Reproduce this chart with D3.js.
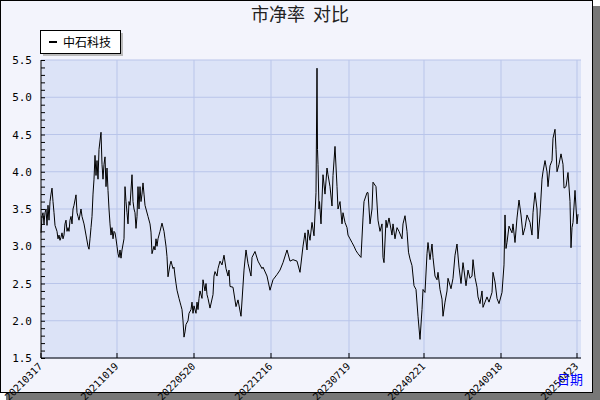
<!DOCTYPE html>
<html><head><meta charset="utf-8">
<script src="https://cdn.jsdelivr.net/npm/d3@7"></script>
<style>body{margin:0;background:#fff}</style></head>
<body><svg id="c" width="600" height="400"></svg>
<script>
const seriesName = "中石科技";
const tickLabels = ["20210317","20211019","20220520","20221216","20230719","20240221","20240918","20250423"];
const tickPos = [0,76,153,230,308,383,460,536];
const yTicks = [1.5,2.0,2.5,3.0,3.5,4.0,4.5,5.0,5.5];
const pos = [0,1,2,3,4,5,6,7,8,9,10,11,12,13,14,16,17,18,19,20,21,22,23,24,25,26,27,28,29,30,31,32,33,35,36,37,38,40,41,43,45,47,48,49,50,51,52,53,54,55,56,57,58,60,61,62,63,64,65,66,67,68,69,70,71,72,73,74,75,76,77,78,79,80,81,83,84,85,86,87,88,89,91,92,93,94,95,96,97,98,99,100,101,102,103,104,105,107,109,110,111,113,114,115,116,117,119,121,123,124,125,126,127,129,130,132,133,134,135,136,138,139,140,141,142,143,144,145,147,148,150,151,152,153,155,156,157,158,159,161,162,164,165,166,167,169,172,173,174,176,177,179,181,183,185,187,188,189,192,195,197,200,203,205,207,210,211,214,217,221,222,226,229,232,236,239,242,246,249,252,256,259,262,264,266,267,269,271,273,275,276,276.5,277,278,278.5,280,282,284,286,287,289,291,292,294,296,297,299,301,302,304,306,307,309,311,313,315,317,320,322,323,326,327,329,331,332,335,337,339,341,342,343,345,346,348,351,352,354,356,358,361,362,364,366,367.5,369,371,373,375,377,379,381,382,384,386,387,389,391,392,394,396,397,399,401,402,404,406,407,410,412,414,416,418,420,422,423,425,427,429,431,432,434,436,437,439,441,442,444,446,448,451,452,454,456,458,461,463,464,465,466,468,471,472,474,476,478,480,482,484,486,489,491,492,494,496,497,499,501,502,504,506,507,509,511,512,514,515,516,518,520,522,523,525,527,529,530,531,532,534,536,537,539];
const pb = [3.18,3.4,3.45,3.3,3.45,3.5,3.28,3.55,3.35,3.6,3.7,3.78,3.6,3.45,3.28,3.2,3.1,3.15,3.08,3.12,3.18,3.1,3.15,3.3,3.35,3.2,3.25,3.2,3.35,3.4,3.3,3.5,3.55,3.69,3.45,3.4,3.35,3.5,3.4,3.3,3.15,3.0,2.96,3.1,3.25,3.4,3.7,3.9,4.22,3.95,4.15,3.9,4.3,4.53,4.1,3.9,4.1,4.2,3.8,4.05,3.75,3.5,3.3,3.15,3.25,3.1,3.2,3.18,3.1,3.0,2.9,2.85,2.95,2.84,2.95,3.1,3.8,3.6,3.45,3.3,3.6,3.55,3.96,3.6,3.5,3.45,3.24,3.4,3.8,3.5,3.8,3.6,3.7,3.85,3.7,3.55,3.5,3.4,3.3,3.19,2.9,3.0,2.95,3.1,3.0,3.1,3.2,3.31,3.2,3.1,3.0,2.86,2.59,2.75,2.8,2.7,2.72,2.6,2.5,2.41,2.3,2.25,2.2,2.15,2.0,1.78,1.85,1.95,2.0,2.1,2.15,2.25,2.1,2.2,2.1,2.25,2.15,2.3,2.4,2.3,2.55,2.4,2.5,2.35,2.3,2.17,2.35,2.6,2.66,2.6,2.7,2.8,2.75,2.88,2.7,2.6,2.68,2.46,2.45,2.19,2.28,2.06,2.68,2.95,2.77,2.6,2.85,2.93,2.8,2.7,2.72,2.6,2.41,2.55,2.62,2.68,2.78,2.95,2.8,2.82,2.8,2.65,3.0,3.18,2.95,3.22,3.08,3.32,3.14,3.72,5.39,4.3,4.1,3.5,3.6,3.3,3.96,3.7,4.05,3.96,3.8,3.54,3.95,4.34,3.8,3.5,3.6,3.3,3.45,3.32,3.25,3.15,3.1,3.05,3.0,2.94,2.9,2.85,3.38,3.6,3.72,3.72,3.3,3.5,3.86,3.8,3.35,3.2,3.3,2.85,2.78,3.35,3.25,3.38,3.15,3.3,3.1,3.25,3.2,3.1,3.3,3.41,3.2,2.92,2.83,2.74,2.47,2.42,2.06,1.75,2.15,2.42,2.38,2.9,3.05,2.82,3.03,2.85,2.6,2.55,2.65,2.42,2.29,2.06,2.25,2.4,2.57,2.43,2.57,2.88,3.03,2.72,2.5,2.78,2.68,2.47,2.68,2.57,2.6,2.82,2.58,2.45,2.32,2.23,2.4,2.18,2.25,2.32,2.25,2.38,2.65,2.52,2.3,2.23,2.38,2.75,3.42,2.97,3.05,3.27,3.18,3.3,3.05,3.38,3.62,3.42,3.15,3.25,3.42,3.32,3.15,3.45,3.72,3.5,3.1,3.42,3.9,4.0,4.15,4.0,3.8,4.08,4.15,4.45,4.57,4.3,4.0,4.1,4.24,4.1,3.78,3.8,3.99,3.6,2.98,3.25,3.32,3.75,3.3,3.43];

const svg = d3.select("#c");
svg.append("rect").attr("x",6).attr("y",6).attr("width",594).attr("height",394).attr("fill","#777");
svg.append("rect").attr("x",0.5).attr("y",0.5).attr("width",592).attr("height",392).attr("fill","#f3f4fc").attr("stroke","#000");
const L=41,R=581,T=60,B=358;
const x = d3.scaleLinear().domain([0,540]).range([L,R]);
const y = d3.scaleLinear().domain([1.5,5.5]).range([B,T]);
svg.append("rect").attr("x",L).attr("y",T).attr("width",R-L).attr("height",B-T).attr("fill","#dce3f7");
const g = svg.append("g");
g.selectAll(".hg").data(yTicks).enter().append("line").attr("x1",L).attr("x2",R).attr("y1",d=>y(d)).attr("y2",d=>y(d)).attr("stroke","#b9c5ea");
g.selectAll(".vg").data(tickPos.slice(1)).enter().append("line").attr("x1",d=>x(d)).attr("x2",d=>x(d)).attr("y1",T).attr("y2",B).attr("stroke","#b9c5ea");
const ya = d3.axisLeft(y).tickValues(d3.range(15,56).map(d=>d/10)).tickSize(4).tickFormat("");
svg.append("g").attr("transform",`translate(${L},0)`).call(ya).call(s=>{s.select(".domain").remove();s.selectAll("line").attr("stroke","#000").attr("transform","translate(4,0)");});
svg.append("line").attr("x1",L).attr("x2",L).attr("y1",T).attr("y2",B).attr("stroke","#000");
svg.append("line").attr("x1",L).attr("x2",R).attr("y1",B).attr("y2",B).attr("stroke","#000");
svg.selectAll(".yl").data(yTicks).enter().append("text").attr("x",L-9).attr("y",d=>y(d)+4).attr("text-anchor","end")
  .attr("font-family","DejaVu Sans Mono").attr("font-size",11).text(d=>d.toFixed(1));
svg.selectAll(".xt").data(tickPos).enter().append("line").attr("x1",d=>x(d)).attr("x2",d=>x(d)).attr("y1",B).attr("y2",B-5).attr("stroke","#000");
svg.selectAll(".xl").data(tickLabels).enter().append("text")
  .attr("transform",(d,i)=>`translate(${x(tickPos[i])+2},${B+9}) rotate(-45)`).attr("text-anchor","end")
  .attr("font-family","DejaVu Sans Mono").attr("font-size",10).text(d=>d);
const line = d3.line().x((d,i)=>x(pos[i])).y(d=>y(d));
svg.append("path").datum(pb).attr("d",line).attr("fill","none").attr("stroke","#000").attr("stroke-width",1);
svg.append("text").attr("x",300).attr("y",21).attr("text-anchor","middle").attr("font-family","Noto Sans CJK SC").attr("font-size",18).attr("fill","#222").style("white-space","pre").text("市净率  对比");
svg.append("rect").attr("x",43).attr("y",33).attr("width",80).attr("height",23).attr("fill","#bbb");
svg.append("rect").attr("x",40.5).attr("y",30.5).attr("width",80).attr("height",23).attr("fill","#fff").attr("stroke","#000");
svg.append("line").attr("x1",49).attr("x2",57).attr("y1",42).attr("y2",42).attr("stroke","#000").attr("stroke-width",2);
svg.append("text").attr("x",63).attr("y",47).attr("font-family","Noto Sans CJK SC").attr("font-size",12).text(seriesName);
svg.append("text").attr("x",570).attr("y",384).attr("text-anchor","middle").attr("font-family","Noto Sans CJK SC").attr("font-size",13).attr("fill","#0000ff").text("日期");
</script></body></html>
